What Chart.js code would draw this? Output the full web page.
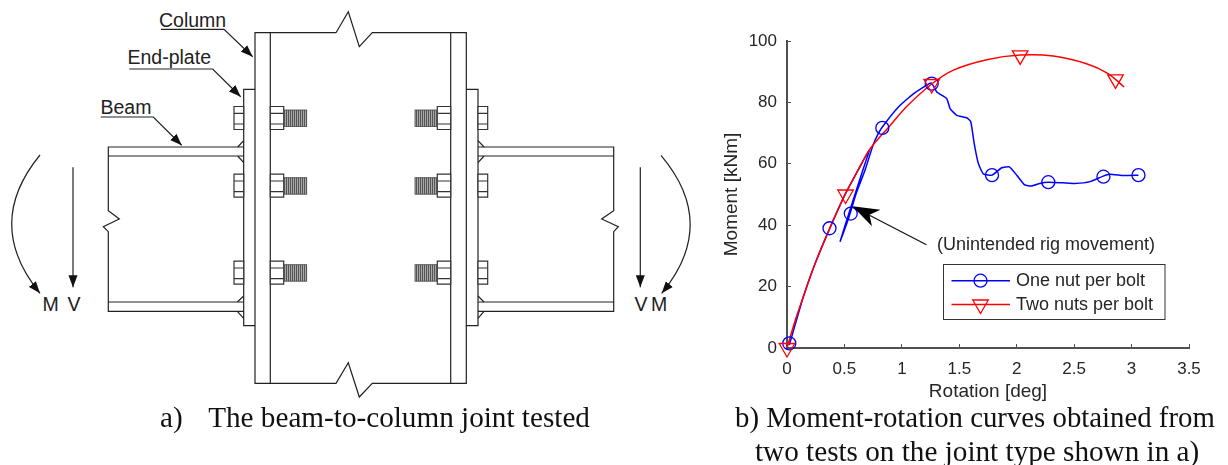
<!DOCTYPE html>
<html><head><meta charset="utf-8">
<script src="https://cdn.jsdelivr.net/npm/chart.js@4/dist/chart.umd.min.js"></script>
<style>
html,body{margin:0;padding:0;background:#fff;width:1228px;height:465px;overflow:hidden}
#d,#c{position:absolute;left:0;top:0}
.cap{position:absolute;font-family:"Liberation Serif",serif;font-size:28.8px;color:#111;white-space:pre;line-height:1;}
svg text{font-family:"Liberation Sans",Arial,sans-serif;fill:#222}
</style></head><body>
<svg id="d" width="1228" height="465" viewBox="0 0 1228 465">
<defs>
<pattern id="th" width="2" height="4" patternUnits="userSpaceOnUse"><rect width="2" height="4" fill="#a8a8a8"/><rect width="1" height="4" fill="#555"/></pattern>
<marker id="ah" markerUnits="userSpaceOnUse" markerWidth="13" markerHeight="10" refX="12" refY="5" orient="auto"><path d="M0,0.5 L12,5 L0,9.5 Z" fill="#111"/></marker>
<g id="nutA"><path d="M0,-11.5H13.4V11.5H0ZM0,-4.7H13.4M0,6H13.4" fill="#fff" stroke="#333" stroke-width="1.2"/></g>
<g id="headA"><path d="M0,-11.5H9.7V11.5H0ZM0,-4.7H9.7M0,6H9.7" fill="#fff" stroke="#333" stroke-width="1.2"/></g>
</defs>
<g fill="none" stroke="#222" stroke-width="1.2">
<path d="M336,32.7H255V383.3H336L348.3,362.7L359.3,397L372.3,383.3H466.3V32.7H372.3L359.3,46.7L348.3,11.7L336,32.7"/>
<path d="M270.3,32.7V383.3M450.7,32.7V383.3"/>
<path d="M255,89.3H243.7V325.7H255M466.3,89.3H478V325.7H466.3"/>
<path d="M243.7,147H108.3V210.7L119.3,219L103.3,226.7L108.3,231.7V311.3H243.7M108.3,156H243.7M108.3,302H243.7"/>
<path d="M478,147H613.7V210.7L601.7,219L618.3,226.7L613.7,231.7V311.3H478M478,156H613.7M478,302H613.7"/>
<path d="M243.7,140.7L237.7,147M237.7,156L243.7,162.7M243.7,296L237.3,302M237.3,311.3L243.7,318.3"/>
<path d="M478,140.7L484,147M484,156L478,162.7M478,296L484,302M484,311.3L478,318.3"/>
</g>
<g>
<use href="#headA" x="234" y="118"/><use href="#headA" x="234" y="185.7"/><use href="#headA" x="234" y="272.7"/>
<use href="#nutA" x="270.3" y="118"/><use href="#nutA" x="270.3" y="185.7"/><use href="#nutA" x="270.3" y="272.7"/>
<use href="#nutA" x="437.3" y="118"/><use href="#nutA" x="437.3" y="185.7"/><use href="#nutA" x="437.3" y="272.7"/>
<use href="#headA" x="478" y="118"/><use href="#headA" x="478" y="185.7"/><use href="#headA" x="478" y="272.7"/>
</g>
<g fill="url(#th)" stroke="#444" stroke-width=".8">
<rect x="283.7" y="110" width="23" height="16.5"/><rect x="283.7" y="177.7" width="23" height="16.5"/><rect x="283.7" y="264.7" width="23" height="16.5"/>
<rect x="415" y="110" width="22.3" height="16.5"/><rect x="415" y="177.7" width="22.3" height="16.5"/><rect x="415" y="264.7" width="22.3" height="16.5"/>
</g>
<g fill="none" stroke="#222" stroke-width="1.2">
<path d="M161,29.3H224L252.7,56.7" marker-end="url(#ah)"/>
<path d="M129.3,69H212.7L240.7,96.7" marker-end="url(#ah)"/>
<path d="M100.7,117H153.3L181.7,145.3" marker-end="url(#ah)"/>
<path d="M73,167.3V287.3" marker-end="url(#ah)"/>
<path d="M640.3,167.3V287.3" marker-end="url(#ah)"/>
<path d="M40,155Q-16.6,224 40,293.3" marker-end="url(#ah)"/>
<path d="M661,155.3Q719,224 661.7,293.3" marker-end="url(#ah)"/>
</g>
<g font-size="19.5">
<text x="159" y="26.5">Column</text>
<text x="127.5" y="64">End-plate</text>
<text x="100.5" y="114">Beam</text>
<text x="42.5" y="310.5">M</text><text x="67.5" y="310.5">V</text>
<text x="634.5" y="310.5">V</text><text x="651" y="310.5">M</text>
</g>
</svg>
<canvas id="c" width="1228" height="465"></canvas>
<div class="cap" style="left:160px;top:402.5px;font-size:29.2px">a)<span style="margin-left:25.5px">The beam-to-column joint tested</span></div>
<div class="cap" style="left:735px;top:403px">b) Moment-rotation curves obtained from</div>
<div class="cap" style="left:755px;top:436.5px;font-size:29.2px">two tests on the joint type shown in a)</div>
<script>
// Series
const oneNutX = [0.02,0.145,0.25,0.376,0.507,0.62,0.718,0.66,0.574,0.463,0.536,0.603,0.68,0.748,0.79,0.83,0.97,1.1,1.255,1.304,1.39,1.42,1.478,1.565,1.6,1.63,1.666,1.71,1.785,1.87,1.936,2.0,2.07,2.13,2.2,2.275,2.405,2.506,2.64,2.753,2.81,2.93,3.06];
const oneNutY = [1,17,28,39.3,50.1,58,64.6,57.9,48,34.8,42.2,50.4,58,66,69.5,72,78.5,82.8,86.3,83.4,81.3,78,75.8,75,73.7,66.6,60.1,56.7,56.3,58.7,59,56.3,53.1,52.8,53.6,54,53.8,53.6,54.2,56,56.6,56.2,56.3];
const twoNutX = [0,0.07,0.145,0.25,0.376,0.507,0.62,0.724,0.898,1.04,1.26,1.449,1.739,2.03,2.318,2.608,2.796,2.935];
const twoNutY = [0,8.8,17,28,39.3,50.1,58,64.9,72.5,78.6,86,90.5,93.9,95.4,95.1,92.6,89.4,85];
const oneMarkX = [0.02,0.37,0.555,0.83,1.26,1.785,2.275,2.755,3.06];
const oneMarkY = [1.5,39,43.8,71.7,86.1,56.3,54,55.8,56.3];
const twoMarkX = [0,0.51,1.26,2.03,2.86];
const twoMarkY = [0,50,86,95.3,87.5];
const seriesNames = ["One nut per bolt","Two nuts per bolt"];
const xTickValues = [0,0.5,1,1.5,2,2.5,3,3.5];
const yTickValues = [0,20,40,60,80,100];
const note = "(Unintended rig movement)";
const noteTarget = [0.57,46.2];

const pts=(xs,ys)=>xs.map((x,i)=>({x,y:ys[i]}));
const BLUE="#0000ff",RED="#ff0000",FONT='"Liberation Sans",Arial,sans-serif';

const overlay={id:"overlay",afterDatasetsDraw(ch){
  const c=ch.ctx,sx=ch.scales.x,sy=ch.scales.y;
  const tx=sx.getPixelForValue(noteTarget[0]),ty=sy.getPixelForValue(noteTarget[1]);
  c.save();
  // callout arrow
  c.strokeStyle="#111";c.lineWidth=1.2;c.beginPath();c.moveTo(tx+74,ty+38.5);c.lineTo(tx+17,ty+9);c.stroke();
  c.fillStyle="#000";c.beginPath();c.moveTo(tx,ty);c.lineTo(tx+28,ty+3.5);c.lineTo(tx+17,ty+8.5);c.lineTo(tx+19.5,ty+20);c.closePath();c.fill();
  c.fillStyle="#262626";c.font="18px "+FONT;c.textBaseline="middle";c.textAlign="left";
  c.fillText(note,937,245.5);
  // legend
  c.fillStyle="#fff";c.strokeStyle="#333";c.lineWidth=1;c.fillRect(943.5,264.5,221.5,55);c.strokeRect(943.5,264.5,221.5,55);
  const rows=[[280.7,BLUE,"circle",0],[304.5,RED,"triangle",180]];
  rows.forEach((r,i)=>{
    c.strokeStyle=r[1];c.lineWidth=1.5;c.beginPath();c.moveTo(951.5,r[0]);c.lineTo(1010,r[0]);c.stroke();
    c.lineWidth=1.3;c.fillStyle="rgba(0,0,0,0)";
    Chart.helpers.drawPoint(c,{pointStyle:r[2],rotation:r[3],radius:r[2]==="circle"?6.5:9,borderWidth:1.3},980.5,r[0]);
    c.fillStyle="#262626";c.font="18px "+FONT;c.fillText(seriesNames[i],1016,r[0]+0.5);
  });
  c.restore();
}};

const tickOpts=()=>({autoSkip:false,maxRotation:0,color:"#262626",font:{family:FONT,size:17},callback:v=>String(v)});
new Chart(document.getElementById("c"),{
  type:"line",
  data:{datasets:[
    {label:seriesNames[0],order:4,data:pts(oneNutX,oneNutY),borderColor:BLUE,borderWidth:1.5,pointRadius:0,tension:0.15,clip:false},
    {label:seriesNames[1],order:3,data:pts(twoNutX,twoNutY),borderColor:RED,borderWidth:1.5,pointRadius:0,tension:0.3,clip:false},
    {label:seriesNames[0]+" markers",order:2,data:pts(oneMarkX,oneMarkY),showLine:false,pointStyle:"circle",pointRadius:6.5,pointBorderWidth:1.3,pointBorderColor:BLUE,pointBackgroundColor:"transparent",clip:false},
    {label:seriesNames[1]+" markers",order:1,data:pts(twoMarkX,twoMarkY),showLine:false,pointStyle:"triangle",pointRotation:180,pointRadius:9,pointBorderWidth:1.3,pointBorderColor:RED,pointBackgroundColor:"transparent",clip:false}
  ]},
  options:{
    responsive:false,animation:false,events:[],
    layout:{padding:{left:720,right:39,top:41,bottom:60}},
    plugins:{legend:{display:false},tooltip:{enabled:false},title:{display:false}},
    scales:{
      x:{type:"linear",min:0,max:3.5,position:"bottom",
        afterBuildTicks:s=>{s.ticks=xTickValues.map(value=>({value}))},
        afterFit:s=>{s.height=57},
        border:{color:"#505050",width:2},
        grid:{drawOnChartArea:false,tickLength:-4,tickColor:"#505050",tickWidth:1},
        ticks:{...tickOpts(),padding:15},
        title:{display:true,text:"Rotation [deg]",color:"#262626",font:{family:FONT,size:19},padding:{top:0,bottom:2}}
      },
      y:{type:"linear",min:0,max:100,position:"left",
        afterBuildTicks:s=>{s.ticks=yTickValues.map(value=>({value}))},
        afterFit:s=>{s.width=67},
        border:{color:"#505050",width:2},
        grid:{drawOnChartArea:false,tickLength:-4,tickColor:"#505050",tickWidth:1},
        ticks:{...tickOpts(),padding:14},
        title:{display:true,text:"Moment [kNm]",color:"#262626",font:{family:FONT,size:19},padding:0}
      }
    }
  },
  plugins:[overlay]
});
</script>
</body></html>
